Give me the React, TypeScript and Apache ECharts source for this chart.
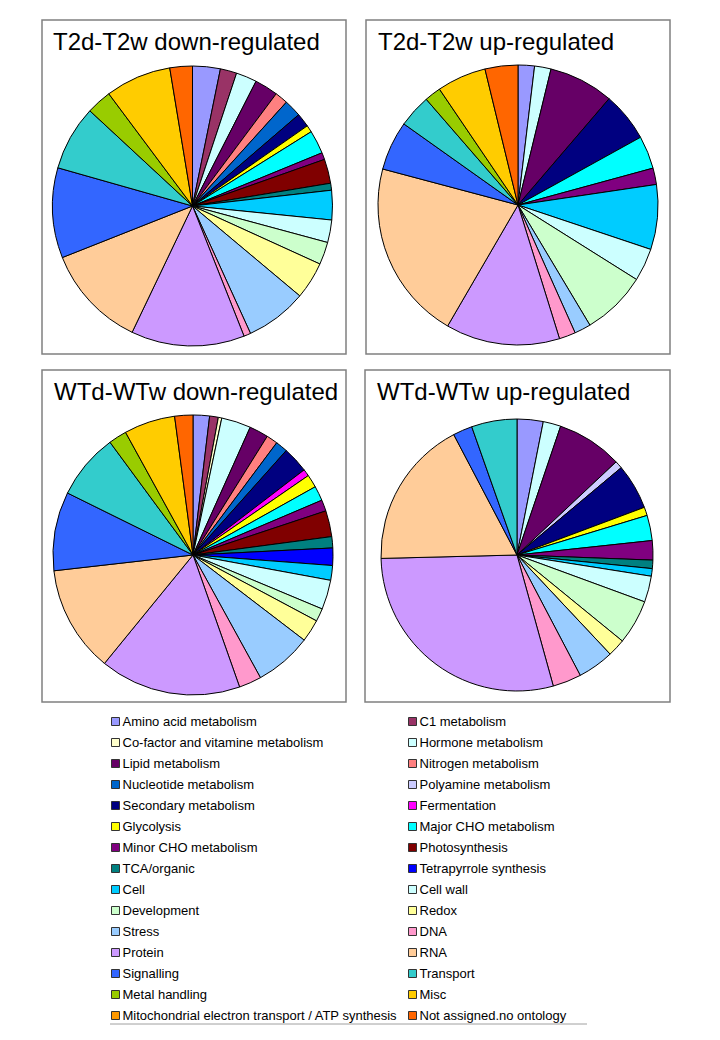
import React, { useEffect, useRef } from "react";
import * as echarts from "echarts";

const categories = [
  "Amino acid metabolism", "C1 metabolism",
  "Co-factor and vitamine metabolism", "Hormone metabolism",
  "Lipid metabolism", "Nitrogen metabolism",
  "Nucleotide metabolism", "Polyamine metabolism",
  "Secondary metabolism", "Fermentation",
  "Glycolysis", "Major CHO metabolism",
  "Minor CHO metabolism", "Photosynthesis",
  "TCA/organic", "Tetrapyrrole synthesis",
  "Cell", "Cell wall",
  "Development", "Redox",
  "Stress", "DNA",
  "Protein", "RNA",
  "Signalling", "Transport",
  "Metal handling", "Misc",
  "Mitochondrial electron transport / ATP synthesis", "Not assigned.no ontology",
];

const colors = [
  "#9999FF", "#993366", "#FFFFCC", "#CCFFFF", "#660066", "#FF8080",
  "#0066CC", "#CCCCFF", "#000080", "#FF00FF", "#FFFF00", "#00FFFF",
  "#800080", "#800000", "#008080", "#0000FF", "#00CCFF", "#CCFFFF",
  "#CCFFCC", "#FFFF99", "#99CCFF", "#FF99CC", "#CC99FF", "#FFCC99",
  "#3366FF", "#33CCCC", "#99CC00", "#FFCC00", "#FF9900", "#FF6600",
];

const panelTitles = [
  "T2d-T2w down-regulated",
  "T2d-T2w up-regulated",
  "WTd-WTw down-regulated",
  "WTd-WTw up-regulated",
];

// percentage share of each category (same order as categories)
const t2Down = [
  3.2, 1.9, 0, 2.4, 2.7, 1.5, 2.0, 0, 1.6, 0, 0.8, 2.7, 0.8, 2.8, 0.8, 0,
  3.4, 2.6, 2.6, 4.3, 7.1, 0.8, 13.1, 11.9, 10.4, 7.5, 2.9, 7.6, 0, 2.6,
];
const t2Up = [
  1.9, 0, 0, 1.9, 7.5, 0, 0, 0, 5.7, 0, 0, 3.8, 1.9, 0, 0, 0,
  7.5, 3.8, 7.5, 0, 1.9, 1.9, 13.2, 20.8, 5.7, 3.8, 1.9, 5.7, 0, 3.8,
];
const wtDown = [
  1.9, 1.0, 0.4, 3.4, 2.2, 1.3, 1.4, 0, 3.0, 0.8, 1.5, 1.7, 1.3, 3.0, 1.3, 2.0,
  1.7, 3.4, 1.5, 2.6, 6.6, 2.6, 16.3, 12.3, 9.1, 7.6, 2.1, 5.9, 0, 2.1,
];
const wtUp = [
  3.1, 0, 0, 2.1, 7.8, 0, 0, 0.9, 5.4, 0, 1.0, 3.0, 2.3, 0, 1.0, 0,
  0.9, 3.1, 5.3, 2.1, 4.3, 3.4, 28.9, 17.7, 2.3, 5.4, 0, 0, 0, 0,
];

const panelValues = [t2Down, t2Up, wtDown, wtUp];

const FONT = "'Liberation Sans', Arial, sans-serif";

export default function App() {
  const ref = useRef<HTMLDivElement>(null);

  useEffect(() => {
    if (!ref.current) return;
    const chart = echarts.init(ref.current, undefined, { renderer: "svg" });

    const boxes = [
      { x: 42, y: 20, w: 304, h: 334 },
      { x: 366, y: 20, w: 304, h: 334 },
      { x: 42, y: 370, w: 304, h: 332 },
      { x: 365, y: 370, w: 305, h: 332 },
    ];
    const titlePos = [
      { left: 53, top: 29 },
      { left: 378, top: 29 },
      { left: 54, top: 379 },
      { left: 377, top: 379 },
    ];
    const centers = [
      [192.5, 206],
      [518, 205],
      [193, 555],
      [517, 555],
    ];
    const radii = [140, 140, 140, 136];

    const series = panelValues.map((vals, p) => ({
      type: "pie",
      name: panelTitles[p],
      center: centers[p],
      radius: [0, radii[p]],
      startAngle: 90,
      clockwise: true,
      avoidLabelOverlap: false,
      label: { show: false },
      labelLine: { show: false },
      emphasis: { disabled: true },
      data: categories.map((name, i) => ({
        name,
        value: vals[i],
        itemStyle: {
          color: colors[i],
          borderColor: "#000",
          borderWidth: vals[i] > 0 ? 1 : 0,
        },
      })),
    }));

    const leftNames = categories.filter((_, i) => i % 2 === 0);
    const rightNames = categories.filter((_, i) => i % 2 === 1);

    const legendCommon = {
      orient: "vertical",
      top: 715,
      padding: 0,
      itemWidth: 8,
      itemHeight: 8,
      itemGap: 8,
      icon: "rect",
      selectedMode: false,
      itemStyle: { borderColor: "#333", borderWidth: 1 },
      textStyle: { fontFamily: FONT, fontSize: 13, color: "#000", padding: [0, 0, 0, -2] },
    };

    chart.setOption({
      animation: false,
      backgroundColor: "#fff",
      title: panelTitles.map((t, i) => ({
        text: t,
        left: titlePos[i].left,
        top: titlePos[i].top,
        padding: 0,
        textStyle: { fontFamily: FONT, fontSize: 24, fontWeight: "normal", color: "#000" },
      })),
      legend: [
        { ...legendCommon, left: 111, data: leftNames },
        { ...legendCommon, left: 408, data: rightNames },
      ],
      graphic: [
        ...boxes.map((b) => ({
          type: "rect",
          shape: { x: b.x, y: b.y, width: b.w, height: b.h },
          style: { fill: "none", stroke: "#808080", lineWidth: 1.5 },
          silent: true,
          z: -1,
        })),
        {
          type: "line",
          shape: { x1: 110, y1: 1024, x2: 587, y2: 1024 },
          style: { stroke: "#a0a0a0", lineWidth: 1 },
          silent: true,
        },
      ],
      series,
    });

    return () => chart.dispose();
  }, []);

  return (
    <div
      ref={ref}
      style={{ position: "absolute", left: 0, top: 0, width: 720, height: 1040 }}
    />
  );
}
